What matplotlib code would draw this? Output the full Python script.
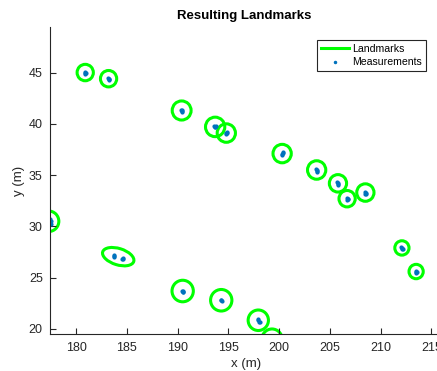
import matplotlib
matplotlib.use("Agg")
import matplotlib.pyplot as plt
from matplotlib.patches import Ellipse
from matplotlib.lines import Line2D

plt.rcParams['font.family'] = ['Liberation Sans', 'DejaVu Sans']

# Landmark estimates (center x, center y, semi-axis a, semi-axis b, angle deg)
lm_x = [180.9, 183.2, 190.4, 193.7, 194.8, 200.3, 203.7, 205.8, 206.7, 208.5,
        212.1, 213.5, 194.3, 197.95, 199.3, 177.3, 184.15, 190.5]
lm_y = [45.0, 44.4, 41.3, 39.7, 39.1, 37.1, 35.5, 34.2, 32.7, 33.3,
        27.9, 25.6, 22.8, 20.85, 19.0, 30.5, 27.05, 23.7]
lm_a = [0.8, 0.8, 0.93, 0.95, 0.9, 0.9, 0.9, 0.85, 0.8, 0.85,
        0.7, 0.7, 1.05, 1.0, 1.0, 1.0, 1.6, 1.05]
lm_b = [0.8, 0.8, 0.93, 0.95, 0.9, 0.9, 0.9, 0.85, 0.8, 0.85,
        0.7, 0.7, 1.05, 1.0, 1.0, 1.0, 0.8, 1.05]
lm_ang = [0, 0, 0, 0, 0, 0, 0, 0, 0, 0,
          0, 0, 0, 0, 0, 0, -17, 0]

# Measurements
meas_x = [180.85, 180.9, 180.95, 180.88,
          183.15, 183.2, 183.25, 183.2,
          190.35, 190.4, 190.45, 190.4,
          193.6, 193.7, 193.8, 193.7,
          194.85, 194.8, 194.75, 194.9,
          200.35, 200.3, 200.25, 200.35,
          203.65, 203.7, 203.75, 203.7,
          205.75, 205.85, 205.8, 205.85,
          206.65, 206.75, 206.7, 206.8,
          208.45, 208.55, 208.5, 208.6,
          212.0, 212.1, 212.2, 212.15,
          213.45, 213.5, 213.6, 213.5,
          194.25, 194.3, 194.35,
          197.9, 197.95, 198.05, 198.1,
          177.45, 177.5, 177.45, 177.5,
          183.7, 183.75, 183.7, 184.6, 184.65, 184.55,
          190.45, 190.5, 190.55, 190.5]
meas_y = [45.05, 44.95, 45.0, 44.9,
          44.45, 44.35, 44.4, 44.3,
          41.35, 41.25, 41.3, 41.2,
          39.75, 39.7, 39.75, 39.65,
          39.2, 39.1, 39.05, 39.15,
          37.25, 37.1, 37.0, 37.15,
          35.55, 35.5, 35.4, 35.35,
          34.3, 34.25, 34.1, 34.05,
          32.75, 32.7, 32.6, 32.65,
          33.35, 33.3, 33.2, 33.2,
          27.95, 27.85, 27.8, 27.75,
          25.7, 25.6, 25.55, 25.5,
          22.85, 22.8, 22.75,
          20.95, 20.85, 20.7, 20.65,
          30.75, 30.5, 30.3, 30.2,
          27.25, 27.1, 27.0, 26.95, 26.85, 26.8,
          23.75, 23.7, 23.65, 23.6]

x_ticks = [180, 185, 190, 195, 200, 205, 210, 215]
y_ticks = [20, 25, 30, 35, 40, 45]

gray = '#262626'
green = '#00ff00'
blue = '#0072BD'

fig = plt.figure(figsize=(4.37, 3.71), dpi=100)
ax = fig.add_axes([49.7/437, 1 - 334/371, 391.8/437, (334 - 27)/371])
ax.set_xlim(177.4, 216.0)
ax.set_ylim(19.51, 49.44)

for cx, cy, a, b, ang in zip(lm_x, lm_y, lm_a, lm_b, lm_ang):
    e = Ellipse((cx, cy), 2*a, 2*b, angle=ang, fill=False, edgecolor=green, lw=2.2)
    ax.add_patch(e)

ax.plot(meas_x, meas_y, '.', color=blue, markersize=4, linestyle='none')

for s in ['top', 'right']:
    ax.spines[s].set_visible(False)
for s in ['left', 'bottom']:
    ax.spines[s].set_color(gray)
    ax.spines[s].set_linewidth(0.8)

ax.set_xticks(x_ticks)
ax.set_yticks(y_ticks)
ax.tick_params(direction='in', length=4, width=0.8, colors=gray, labelsize=9, labelcolor=gray)
ax.tick_params(axis='x', pad=6)
ax.tick_params(axis='y', pad=5)
ax.set_xlabel('x (m)', fontsize=9.5, color=gray, labelpad=3)
ax.set_ylabel('y (m)', fontsize=9.5, color=gray, labelpad=3)
fig.text(244/437, 1 - 16/371, 'Resulting Landmarks', ha='center', va='center',
         fontsize=9.5, fontweight='bold', color='black')

handles = [Line2D([], [], color=green, lw=2.2),
           Line2D([], [], color=blue, marker='.', markersize=3, linestyle='none')]
leg = ax.legend(handles, ['Landmarks', 'Measurements'], loc='upper right',
                bbox_to_anchor=(426/437, 1 - 40/371), bbox_transform=fig.transFigure,
                fontsize=7.6, frameon=True, fancybox=False, framealpha=1,
                edgecolor=gray, handlelength=2.7, handletextpad=0.3,
                borderpad=0.35, labelspacing=0.35, borderaxespad=0)
leg.get_frame().set_linewidth(0.8)

fig.savefig('out.png', dpi=100)
